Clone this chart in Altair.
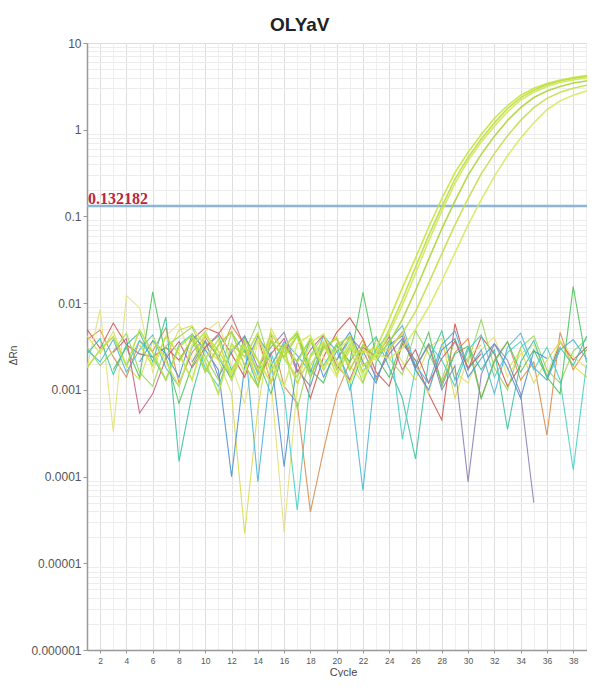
import altair as alt
import pandas as pd

cycles = list(range(1, 41))
threshold = 0.132182

# ---- background (non-amplifying) wells ----
n_red = [0.005, 0.003, 0.0059, 0.0033, 0.0026, 0.0024, 0.0031, 0.0022, 0.0038, 0.0052,
         0.0045, 0.0026, 0.0014, 0.0041, 0.0012, 0.0033, 0.0021, 0.0008, 0.0024, 0.0046,
         0.0068, 0.0039, 0.0016, 0.0011, 0.0034, 0.0022, 0.0009, 0.00045, 0.0058, 0.0017,
         0.0041, 0.0026, 0.0011, 0.0019, None, 0.0013, 0.0036, 0.0022, 0.0031, 0.0034]
n_orange = [0.0038, 0.0049, 0.0024, 0.0014, 0.0037, 0.0028, 0.0052, 0.0012, 0.0027, 0.0041,
            0.0023, 0.0055, 0.0033, 0.0016, 0.0044, 0.0011, 0.0007, 0.000039, 0.0002, 0.0009,
            0.0021, 0.0038, 0.0013, 0.0029, 0.0047, 0.0018, 0.0034, 0.0012, 0.0027, 0.0039,
            0.0008, 0.0022, 0.0036, 0.0013, 0.0021, 0.0003, 0.0046, 0.0017, 0.0029, 0.0025]
n_paleyellow = [0.0018, 0.0085, 0.00033, 0.0122, 0.0088, 0.0016, 0.0042, 0.0058, 0.0021, 0.0047,
                0.0061, 0.0019, 0.0007, 0.0036, 0.0013, 0.000023, 0.0011, 0.0039, 0.0024, 0.0014,
                0.0043, 0.0022, 0.0035, None, None, 0.0018, 0.0009, 0.0033, 0.0016, 0.0012,
                0.0029, 0.0041, 0.0014, 0.0026, 0.0033, 0.0015, 0.0037, 0.0024, 0.0018, 0.0031]
n_yellow = [0.0042, 0.0026, 0.0047, 0.0019, 0.0013, 0.0036, 0.0024, 0.0049, 0.0055, 0.0031,
            0.0022, 0.0009, 0.000022, 0.0006, 0.0051, 0.0027, 0.0043, 0.0016, 0.0029, 0.0041,
            0.0019, 0.0012, 0.0028, 0.0037, 0.0021, 0.0013, 0.0031, 0.0039, 0.0008, 0.0024,
            0.0033, None, 0.0017, 0.0029, 0.0012, 0.0022, 0.0036, 0.0019, 0.0014, 0.0028]
n_lightgreen = [0.0031, 0.0019, 0.0028, 0.0045, 0.0016, 0.0011, 0.0032, 0.0041, 0.0053, 0.0024,
                0.0013, 0.0046, 0.0027, 0.0061, 0.0019, 0.0034, 0.0006, 0.0025, 0.0042, 0.0017,
                0.0031, 0.0012, 0.0039, 0.0023, 0.0015, 0.0048, 0.0026, 0.0013, 0.0037, 0.0021,
                0.0065, 0.0018, 0.0010, 0.0031, 0.0042, 0.0017, 0.0012, 0.0028, 0.0038, 0.0036]
n_green = [None, None, 0.0017, 0.0031, 0.0014, 0.0135, 0.0024, 0.0007, 0.0019, 0.0036,
           0.0025, 0.0013, 0.0041, 0.0022, 0.0009, 0.0031, 0.0045, 0.0017, 0.0012, 0.0033,
           0.0021, 0.0133, 0.0024, 0.0014, 0.0037, 0.0019, 0.0046, 0.0011, 0.0026, 0.0032,
           0.0008, 0.0021, 0.0036, 0.0016, 0.0029, 0.0014, 0.0009, 0.0155, 0.0021, 0.0029]
n_teal = [0.0026, 0.0039, 0.0015, 0.0033, 0.0046, 0.0021, 0.0069, 0.00015, 0.0009, 0.0031,
          0.0042, 0.0017, 0.0029, 0.0011, 0.0037, 0.0023, 0.0014, 0.0039, 0.0019, 0.0034,
          0.0010, 0.0027, 0.0041, 0.0018, 0.0008, 0.00016, 0.0022, 0.0048, 0.0013, 0.0031,
          0.0017, 0.0029, 0.00035, 0.0021, 0.0037, 0.0014, 0.0031, 0.0019, 0.0041, 0.0028]
n_aqua = [None, None, None, 0.0019, 0.0037, 0.0024, 0.0013, 0.0033, 0.0044, 0.0018,
          0.0011, 0.0029, 0.0041, 0.0015, 0.0027, 0.0009, 0.000041, 0.0014, 0.0034, 0.0022,
          0.0038, 0.0016, 0.0029, 0.0045, 0.00027, 0.0018, 0.0034, 0.0022, 0.0011, 0.0029,
          0.0043, 0.0014, 0.0027, 0.0036, 0.0017, 0.0031, 0.0013, 0.00012, 0.0019, 0.0031]
n_cyan = [0.0029, 0.0021, 0.0038, 0.0016, 0.0029, 0.0043, 0.0018, 0.0011, 0.0031, 0.0047,
          0.0023, 0.0014, 0.0037, 0.000087, 0.0019, 0.0036, 0.0025, 0.0016, 0.0042, 0.0028,
          0.0013, 0.000069, 0.0021, 0.0037, 0.0055, 0.0019, 0.0012, 0.0033, 0.0048, 0.0017,
          0.0029, 0.0009, 0.0031, 0.0045, 0.0018, 0.0013, 0.0029, 0.0038, 0.0023, 0.0021]
n_blue = [None, None, None, None, 0.0021, 0.0037, 0.0026, 0.0014, 0.0044, 0.0029,
          0.0017, 0.0001, 0.0019, 0.0041, 0.0024, 0.00013, 0.0022, 0.0038, 0.0014, 0.0028,
          0.0046, 0.0021, 0.0012, 0.0033, 0.0042, 0.0017, 0.0010, 0.0029, 0.0039, 0.0014,
          0.0023, 0.0034, 0.0018, 0.0008, 0.0028, 0.0023, None, None, None, None]
n_purple = [None, None, None, None, None, None, None, None, 0.0021, 0.0037,
            0.0014, 0.0027, 0.0042, 0.0018, 0.0031, 0.0046, 0.0017, 0.0011, 0.0033, 0.0022,
            0.0041, 0.0028, 0.0014, 0.0026, 0.0039, 0.0018, 0.0033, 0.0010, 0.0019, 0.000087,
            0.0015, 0.0034, 0.0022, 0.0009, 0.00005, None, None, None, None, None]
n_rose = [None, None, 0.0027, 0.0039, 0.00054, 0.0009, 0.0023, 0.0036, 0.0018, 0.0031,
          0.0044, 0.0072, 0.0031, 0.0013, 0.0026, 0.0039, 0.0016, 0.0029, 0.0043, 0.0019,
          0.0013, 0.0031, 0.0024, 0.0041, 0.0017, 0.0029, 0.0012, 0.0023, 0.0036, 0.0018,
          0.0026, None, None, None, None, None, None, None, None, None]

# ---- amplifying wells ----
a1 = [None, None, None, None, 0.0033, 0.0019, 0.0041, 0.0026, 0.0013, 0.0044,
      0.0028, 0.0016, 0.0037, 0.0022, 0.0012, 0.0031, 0.0047, 0.0019, 0.0034, 0.0015,
      0.0029, 0.0027, 0.003, 0.0065, 0.015, 0.033, 0.075, 0.16, 0.32, 0.55,
      0.88, 1.35, 1.9, 2.5, 3.0, 3.4, 3.75, 4.0, 4.2, 4.3]
a2 = [0.0018, 0.0029, 0.0041, 0.0019, 0.0049, 0.0027, 0.0013, 0.0031, 0.0043, 0.0021,
      0.0009, 0.0034, 0.0024, 0.0045, 0.0016, 0.0031, 0.0021, 0.0039, 0.0017, 0.0033,
      0.0041, 0.0019, 0.0025, 0.005, 0.011, 0.026, 0.06, 0.13, 0.27, 0.48,
      0.78, 1.2, 1.75, 2.35, 2.85, 3.3, 3.65, 3.9, 4.1, 4.2]
a3 = [None, None, None, None, None, 0.0041, 0.0021, 0.0011, 0.0033, 0.0046,
      0.0024, 0.0015, 0.0032, 0.0013, 0.0039, 0.0023, 0.0014, 0.0035, 0.0044, 0.0021,
      0.0012, 0.0029, 0.0022, 0.0045, 0.0095, 0.022, 0.052, 0.115, 0.24, 0.44,
      0.72, 1.1, 1.6, 2.2, 2.7, 3.15, 3.5, 3.75, 3.95, 4.05]
a4 = [None, None, None, None, None, None, None, 0.0021, 0.0039, 0.0016,
      0.0033, 0.0047, 0.0019, 0.0011, 0.0036, 0.0024, 0.0042, 0.0014, 0.0031, 0.0039,
      0.0017, 0.0033, 0.0024, 0.0035, 0.0065, 0.014, 0.032, 0.072, 0.15, 0.3,
      0.52, 0.84, 1.28, 1.8, 2.35, 2.8, 3.15, 3.45, 3.65, 3.8]
a5 = [None, None, None, None, None, None, None, None, None, 0.0023,
      0.0038, 0.0013, 0.0031, 0.0017, 0.0045, 0.0027, 0.0012, 0.0024, 0.0036, 0.0018,
      0.0034, 0.0016, 0.0027, 0.003, 0.0045, 0.008, 0.017, 0.037, 0.08, 0.16,
      0.31, 0.53, 0.85, 1.28, 1.8, 2.3, 2.7, 3.0, 3.25, 3.4]
a6 = [None, None, None, None, None, None, None, None, None, None,
      None, 0.0033, 0.0016, 0.0039, 0.0021, 0.0011, 0.0034, 0.0043, 0.0018, 0.0029,
      0.0038, 0.0014, 0.0026, 0.0023, 0.003, 0.005, 0.009, 0.018, 0.038, 0.08,
      0.155, 0.29, 0.5, 0.8, 1.2, 1.7, 2.15, 2.5, 2.8, 2.95]

series_names = ["red", "orange", "paleyellow", "yellow", "lightgreen", "green", "teal",
                "aqua", "cyan", "blue", "purple", "rose",
                "amp1", "amp2", "amp3", "amp4", "amp5", "amp6"]
series_kinds = ["noise"] * 12 + ["amp"] * 6
series_colors = ["#d0544c", "#d98b4b", "#e4e078", "#dcda52", "#96d65a", "#4ec45c", "#3cc2a0",
                 "#46cfc6", "#4ab6dc", "#4a94d2", "#8a82b6", "#c8607a",
                 "#c6e43c", "#b8de40", "#d0e858", "#aad63a", "#c2e04e", "#d6ea62"]
series_values = [n_red, n_orange, n_paleyellow, n_yellow, n_lightgreen, n_green, n_teal,
                 n_aqua, n_cyan, n_blue, n_purple, n_rose, a1, a2, a3, a4, a5, a6]

rows = []
for name, kind, vals in zip(series_names, series_kinds, series_values):
    assert len(vals) == len(cycles), name
    seg = 0
    for c, v in zip(cycles, vals):
        if v is None:
            seg += 1
            continue
        rows.append({"series": name, "kind": kind, "seg": f"{name}-{seg}",
                     "cycle": c, "value": v})
df = pd.DataFrame(rows)

thr_df = pd.DataFrame({"t": [threshold], "label": [f"{threshold}"]})

decades = [1e-6, 1e-5, 1e-4, 1e-3, 1e-2, 1e-1, 1, 10]
minors = [m * d for d in decades[:-1] for m in range(2, 10)]

xscale = alt.Scale(domain=[1, 39.05], nice=False, zero=False)
yscale = alt.Scale(type="log", domain=[1e-6, 10], nice=False)

x_axis = alt.Axis(
    values=list(range(1, 40)),
    labelExpr="datum.value % 2 == 0 ? datum.label : ''",
    gridColor={"condition": {"test": "datum.value % 2 == 0", "value": "#dedede"}, "value": "#efefef"},
    tickSize={"condition": {"test": "datum.value % 2 == 0", "value": 3}, "value": 0},
    tickColor="#999999", domainColor="#999999", domainWidth=1.5,
    labelFontSize=8.5, labelColor="#555555", labelPadding=3, labelAngle=0,
    labelFont="Liberation Sans",
    title="Cycle", titleX=256, titleY=25, titleFontSize=11, titleFontWeight="normal",
    titleColor="#444444", titleBaseline="alphabetic", titleAlign="center",
    titleFont="Liberation Sans",
)

y_axis = alt.Axis(
    values=decades, format="~f",
    gridColor={"condition": {"test": "datum.value > 5", "value": "#aaaaaa"}, "value": "#d6d6d6"},
    tickSize=4, tickColor="#999999", domainColor="#999999", domainWidth=1.5,
    labelFontSize=12, labelColor="#555555", labelPadding=2, labelFont="Liberation Sans",
    title="ΔRn", titleX=-74, titleY=312, titleAngle=270, titleFontSize=10,
    titleFontWeight="normal", titleAlign="center", titleBaseline="middle",
    titleColor="#444444", titleFont="Liberation Sans",
)

minor_axis = alt.Axis(orient="right", values=minors, grid=True, gridColor="#ececec",
                      labels=False, ticks=False, domain=False, title=None)

lines = alt.Chart(df).mark_line(clip=True, opacity=0.9).encode(
    x=alt.X("cycle:Q", scale=xscale, axis=x_axis),
    y=alt.Y("value:Q", scale=yscale, axis=y_axis),
    color=alt.Color("series:N", scale=alt.Scale(domain=series_names, range=series_colors), legend=None),
    strokeWidth=alt.StrokeWidth("kind:N", scale=alt.Scale(domain=["noise", "amp"], range=[1.1, 1.6]), legend=None),
    detail="seg:N",
    order="cycle:Q",
)

rule = alt.Chart(thr_df).mark_rule(color="#8fb4da", strokeWidth=2.5).encode(
    y=alt.Y("t:Q", scale=yscale, axis=minor_axis),
)

label = alt.Chart(thr_df).mark_text(
    align="left", baseline="alphabetic", dy=-2, font="Liberation Serif",
    fontWeight="bold", fontSize=16, color="#b8283c",
).encode(
    x=alt.value(1),
    y=alt.Y("t:Q", scale=yscale, axis=None),
    text="label:N",
)

chart = alt.layer(rule, lines, label).resolve_axis(y="independent").properties(
    width=500, height=607,
    autosize=alt.AutoSizeParams(type="none"),
    padding={"left": 79, "top": 35, "right": 0, "bottom": 27},
    title=alt.TitleParams("OLYaV", anchor="start", frame="group", dx=183, dy=24, offset=11,
                          fontSize=19, fontWeight="bold", font="Liberation Sans",
                          color="#222222", baseline="alphabetic"),
).configure_view(stroke=None).configure(background="white")

chart.save("out.html", embed_options={"renderer": "svg", "actions": False})
